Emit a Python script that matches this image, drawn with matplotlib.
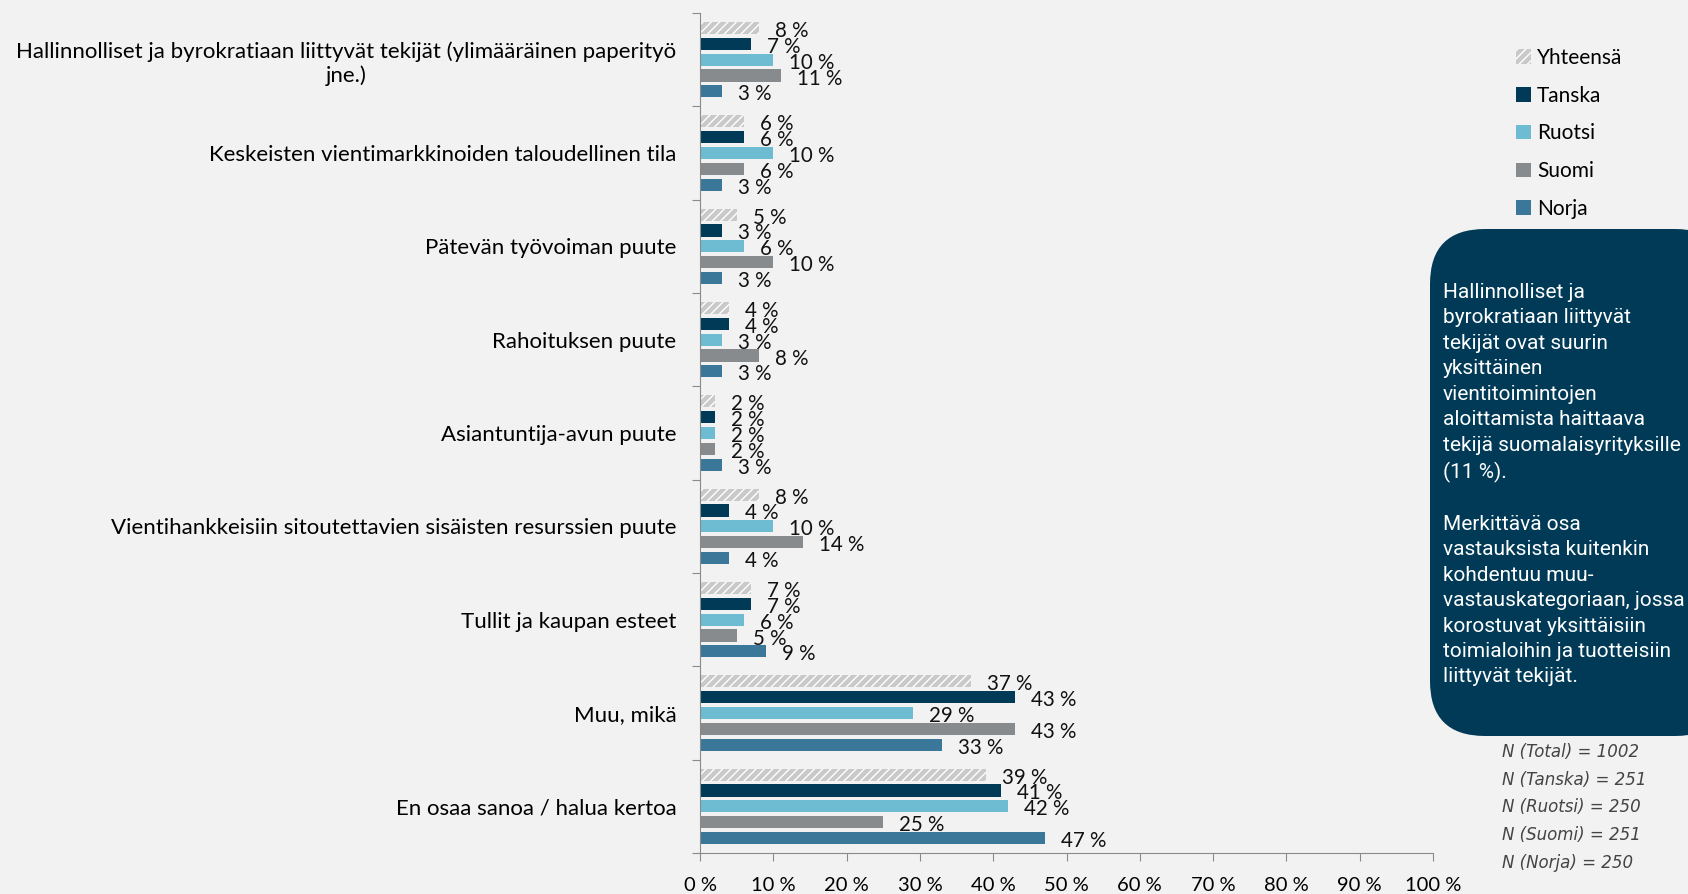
import matplotlib.pyplot as plt
import numpy as np
from matplotlib.patches import Patch, FancyBboxPatch

categories = [
    "Hallinnolliset ja byrokratiaan liittyvät tekijät (ylimääräinen paperityö\njne.)",
    "Keskeisten vientimarkkinoiden taloudellinen tila",
    "Pätevän työvoiman puute",
    "Rahoituksen puute",
    "Asiantuntija-avun puute",
    "Vientihankkeisiin sitoutettavien sisäisten resurssien puute",
    "Tullit ja kaupan esteet",
    "Muu, mikä",
    "En osaa sanoa / halua kertoa",
]
series = ["Yhteensä", "Tanska", "Ruotsi", "Suomi", "Norja"]
yhteensa = [8, 6, 5, 4, 2, 8, 7, 37, 39]
tanska = [7, 6, 3, 4, 2, 4, 7, 43, 41]
ruotsi = [10, 10, 6, 3, 2, 10, 6, 29, 42]
suomi = [11, 6, 10, 8, 2, 14, 5, 43, 25]
norja = [3, 3, 3, 3, 3, 4, 9, 33, 47]
values = [yhteensa, tanska, ruotsi, suomi, norja]
colors = ["#c9c9c9", "#003a57", "#6dbcd1", "#878b8e", "#3b7798"]

n_labels = ["N (Total) = 1002", "N (Tanska) = 251", "N (Ruotsi) = 250",
            "N (Suomi) = 251", "N (Norja) = 250"]
note = ("Hallinnolliset ja\nbyrokratiaan liittyvät\ntekijät ovat suurin\nyksittäinen\n"
        "vientitoimintojen\naloittamista haittaava\ntekijä suomalaisyrityksille\n(11 %).\n\n"
        "Merkittävä osa\nvastauksista kuitenkin\nkohdentuu muu-\nvastauskategoriaan, jossa\n"
        "korostuvat yksittäisiin\ntoimialoihin ja tuotteisiin\nliittyvät tekijät.")

bg = "#f2f2f2"
plt.rcParams['font.family'] = ['Lato', 'DejaVu Sans']

fig = plt.figure(figsize=(16.88, 8.94), dpi=100, facecolor=bg)
ax = fig.add_axes([700 / 1688, 1 - 853 / 894, 733 / 1688, 840 / 894])
ax.set_facecolor(bg)

y = np.arange(len(categories))
slot = 0.17
h = 0.13
for j, (name, vals) in enumerate(zip(series, values)):
    pos = y + (j - 2) * slot
    if j == 0:
        bars = ax.barh(pos, vals, height=h, color=colors[j], edgecolor="white",
                       hatch="////", linewidth=0)
    else:
        bars = ax.barh(pos, vals, height=h, color=colors[j], linewidth=0)
    for b, v in zip(bars, vals):
        ax.annotate(f"{v} %", (v, b.get_y() + b.get_height() / 2),
                    xytext=(16, -3), textcoords="offset pixels",
                    va="center", ha="left", fontsize=14.8, color="#111111")

ax.set_xlim(0, 100)
ax.set_ylim(len(categories) - 0.5, -0.5)
ax.set_xticks(range(0, 101, 10))
ax.set_xticklabels([f"{t} %" for t in range(0, 101, 10)], fontsize=14.5)
ax.set_yticks(np.arange(-0.5, len(categories), 1))
ax.set_yticklabels([])
ax.set_yticks(y, categories, minor=True, fontsize=16, multialignment="center")
ax.tick_params(axis="y", which="minor", length=0, pad=17)
ax.tick_params(axis="y", which="major", length=6, color="#8a8a8a", direction="out")
ax.tick_params(axis="x", length=6, color="#8a8a8a", pad=11)
for s in ["top", "right"]:
    ax.spines[s].set_visible(False)
for s in ["left", "bottom"]:
    ax.spines[s].set_color("#8a8a8a")

# legend
handles = [Patch(facecolor=colors[0], edgecolor="white", hatch="////", linewidth=0)]
handles += [Patch(facecolor=c, linewidth=0) for c in colors[1:]]
fig.legend(handles, series, loc="upper left", bbox_to_anchor=(1516 / 1688, 1 - 48 / 894),
           frameon=False, fontsize=15, handlelength=0.7, handleheight=0.7,
           handletextpad=0.3, labelspacing=0.85, borderpad=0, borderaxespad=0)

# note box
box = FancyBboxPatch((14.30, 1.58), 3.0, 5.07, boxstyle="round,pad=0,rounding_size=0.55",
                     transform=fig.dpi_scale_trans, facecolor="#003a57", edgecolor="none")
fig.patches.append(box)
fig.text(1443 / 1688, 1 - 283 / 894, note, ha="left", va="top", color="white",
         fontsize=15, family="Roboto", linespacing=1.43)

for i, t in enumerate(n_labels):
    fig.text(1502 / 1688, 1 - (752 + i * 27.7) / 894, t, ha="left", va="center",
             fontsize=12, style="italic", color="#444444", family="DejaVu Sans")

fig.savefig("out.png", dpi=100, facecolor=bg)
